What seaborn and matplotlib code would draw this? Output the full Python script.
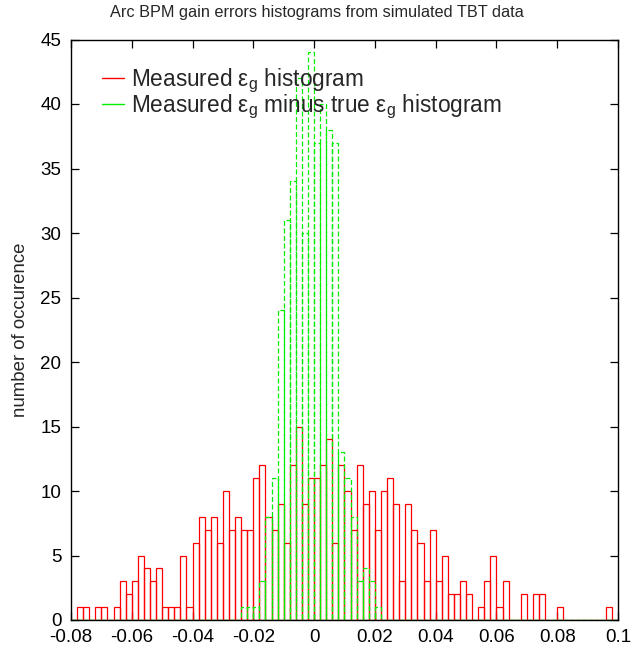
import numpy as np
import pandas as pd
import matplotlib
matplotlib.use("Agg")
import matplotlib.pyplot as plt
from matplotlib.lines import Line2D
import seaborn as sns

# ---- data (histogram counts per 0.002-wide bin) ----
bin_width = 0.002
x_min, x_max = -0.08, 0.10
red_counts = [0, 1, 1, 0, 1, 1, 0, 1, 3, 2,
              3, 5, 4, 3, 4, 1, 1, 1, 5, 1,
              6, 8, 7, 8, 6, 10, 7, 8, 7, 7,
              11, 12, 8, 7, 9, 6, 12, 15, 9, 11,
              11, 12, 14, 6, 12, 10, 7, 12, 9, 10,
              7, 10, 11, 9, 3, 9, 7, 6, 3, 7,
              3, 5, 2, 2, 3, 2, 0, 1, 3, 5,
              1, 3, 0, 0, 2, 0, 2, 2, 0, 0,
              1, 0, 0, 0, 0, 0, 0, 0, 1, 0]
green_start = -0.024
green_counts = [1, 1, 1, 3, 8, 11, 24, 31, 34, 42, 30, 44, 37, 40, 38, 37,
                13, 11, 8, 3, 4, 3, 1]
x_ticks = [-0.08, -0.06, -0.04, -0.02, 0.0, 0.02, 0.04, 0.06, 0.08, 0.10]
x_ticklabels = ["-0.08", "-0.06", "-0.04", "-0.02", "0", "0.02", "0.04", "0.06", "0.08", "0.1"]
y_ticks = [0, 5, 10, 15, 20, 25, 30, 35, 40, 45]
title = "Arc BPM gain errors histograms from simulated TBT data"
ylabel = "number of occurence"
legend_labels = [r"Measured $\varepsilon_g$ histogram",
                 r"Measured $\varepsilon_g$ minus true $\varepsilon_g$ histogram"]

sns.set_style("ticks")
plt.rcParams["font.family"] = ["Liberation Sans", "DejaVu Sans"]
plt.rcParams["mathtext.default"] = "regular"

nb = int(round((x_max - x_min) / bin_width))
edges = [x_min + bin_width * i for i in range(nb + 1)]
red_x = [e + bin_width / 2 for e in edges[:-1]]
g0 = int(round((green_start - x_min) / bin_width))
green_x = red_x[g0:g0 + len(green_counts)]
red_df = pd.DataFrame({"x": red_x, "w": red_counts})
green_df = pd.DataFrame({"x": green_x, "w": green_counts})

fig = plt.figure(figsize=(6.33, 6.5), dpi=100)
ax = fig.add_axes([71 / 633, 1 - 620 / 650, (618 - 71) / 633, (620 - 39.5) / 650])

sns.histplot(data=red_df, x="x", weights="w", bins=edges, element="bars", fill=False,
             color="#ff0000", linewidth=0.9, ax=ax)
sns.histplot(data=green_df, x="x", weights="w", bins=edges, element="bars", fill=False,
             color="#00ee00", linewidth=0.9, linestyle=(0, (4, 2)), ax=ax)

ax.set_xlim(x_min, x_max)
ax.set_ylim(0, 45)
ax.set_xticks(x_ticks)
ax.set_xticklabels(x_ticklabels)
ax.set_yticks(y_ticks)
ax.set_xlabel("")
ax.set_ylabel(ylabel, fontsize=13.4)
ax.yaxis.set_label_coords(-0.077, 0.5)
fig.text(0.5, 1 - 12 / 650, title, ha="center", va="center", fontsize=11.7)
ax.tick_params(direction="in", length=5.5, width=0.9, top=True, right=True,
               labelsize=13.5, colors="black")
ax.tick_params(axis="x", pad=6.5)
ax.tick_params(axis="y", pad=7)
for s in ax.spines.values():
    s.set_visible(True)
    s.set_linewidth(1.0)
    s.set_color("black")

handles = [Line2D([], [], color="#ff0000", lw=1.0),
           Line2D([], [], color="#00ee00", lw=1.0)]
ax.legend(handles, legend_labels, loc="upper left", frameon=False, fontsize=16.3,
          handlelength=1.0, handletextpad=0.3, labelspacing=-0.1,
          bbox_to_anchor=(0.056, 0.953), borderaxespad=0, borderpad=0)

fig.savefig("out.png", dpi=100)
